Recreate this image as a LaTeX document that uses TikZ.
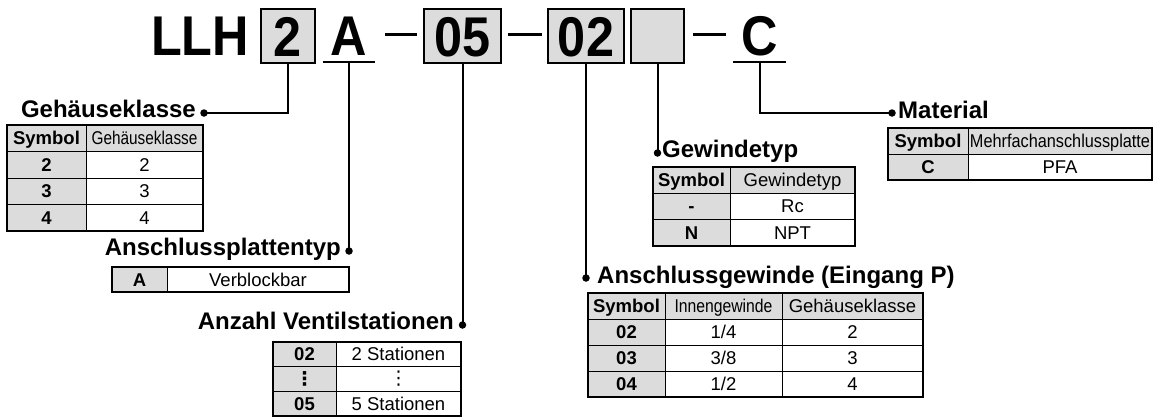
\documentclass[tikz,border=0pt]{standalone}
\usepackage{fontspec}
\setmainfont{Liberation Sans}
\newfontfamily\djv{DejaVu Sans}
\usepackage{graphicx}
\definecolor{gr}{RGB}{220,220,220}
\newcommand\cond[2]{\scalebox{#1}[1]{#2}}
\newcommand\ttlfont{\fontsize{56}{60}\selectfont\bfseries}
\tikzset{
  tb/.style={draw, line width=2pt, fill=gr, inner sep=0pt, text height=40pt, text depth=0pt, font=\ttlfont},
  ul/.style={inner sep=0pt, text height=40pt, text depth=7pt, font=\ttlfont},
  sect/.style={inner sep=0pt, font=\fontsize{24}{28}\selectfont\bfseries},
  cell/.style={inner sep=0pt, text height=13.3pt, text depth=0pt, font=\fontsize{18.5}{20}\selectfont},
  bcell/.style={inner sep=0pt, text height=13.3pt, text depth=0pt, font=\fontsize{18.5}{20}\selectfont\bfseries},
  dcell/.style={inner sep=0pt, font=\fontsize{19}{20}\selectfont\djv},
  conn/.style={line width=2pt},
  dot/.style={circle, fill=black, inner sep=0pt, minimum size=7.5pt},
  outer/.style={line width=1.8pt},
  inner/.style={line width=1pt},
  sep/.style={line width=3pt}
}
\begin{document}
\begin{tikzpicture}[x=1pt,y=-1pt]
\useasboundingbox (0,0) rectangle (1156,418);
% ---------- title line ----------
\node[anchor=base west, inner sep=0pt, font=\ttlfont] (llh) at (151,55) {\cond{0.9}{LLH}};
\node[tb, minimum width=54pt, minimum height=54pt] (b2) at (288,36) {\cond{0.9}{2}};
\node[ul, minimum width=52pt] (bA) at (349,38.5) {\cond{0.9}{A}};
\draw[line width=2pt] (bA.south west) -- (bA.south east);
\draw[sep] (385,34) -- (417,34);
\node[tb, minimum width=77pt, minimum height=54pt] (b05) at (462.5,36) {\cond{0.9}{05}};
\draw[sep] (508,34) -- (542,34);
\node[tb, minimum width=76pt, minimum height=54pt] (b02) at (586,36) {\cond{0.9}{02}};
\node[tb, minimum width=53pt, minimum height=54pt] (bX) at (657.5,36) {};
\draw[sep] (693,34) -- (726,34);
\node[ul, minimum width=53pt] (bC) at (759.5,38.5) {\cond{0.9}{C}};
\draw[line width=2pt] (bC.south west) -- (bC.south east);
% ---------- section dots and connectors ----------
\node[dot] (d1) at (204,113) {};
\node[dot] (d2) at (349,251) {};
\node[dot] (d3) at (462.5,325) {};
\node[dot] (d4) at (586,278) {};
\node[dot] (d5) at (657.5,153) {};
\node[dot] (d6) at (892,113) {};
\draw[conn] (b2.south) |- (d1.center);
\draw[conn] (bA.south) -- (d2.center);
\draw[conn] (b05.south) -- (d3.center);
\draw[conn] (b02.south) -- (d4.center);
\draw[conn] (bX.south) -- (d5.center);
\draw[conn] (bC.south) |- (d6.center);
% ---------- section titles ----------
\node[sect, anchor=base east] (s1) at (196,117) {Gehäuseklasse};
\node[sect, anchor=base east] (s2) at (341,255) {Anschlussplattentyp};
\node[sect, anchor=base east] (s3) at (454,329) {Anzahl Ventilstationen};
\node[sect, anchor=base west] (s4) at (597,283) {Anschlussgewinde (Eingang P)};
\node[sect, anchor=base west] (s5) at (662,157) {Gewindetyp};
\node[sect, anchor=base west] (s6) at (898,118) {Material};
% ---------- table 1: Gehaeuseklasse ----------
\fill[gr] (7,125) rectangle (203,151.5);
\fill[gr] (7,151.5) rectangle (86,231);
\draw[inner] (7,151.5) -- (203,151.5) (7,178) -- (203,178) (7,204.5) -- (203,204.5) (86,125) -- (86,231);
\draw[outer] (7,125) rectangle (203,231);
\node[bcell] (t1a) at (46.5,138.25) {Symbol};
\node[cell] (t1b) at (144.5,138.25) {\cond{0.83}{Gehäuseklasse}};
\node[bcell] (t1c) at (46.5,164.75) {2};
\node[cell] (t1d) at (144.5,164.75) {2};
\node[bcell] (t1e) at (46.5,191.25) {3};
\node[cell] (t1f) at (144.5,191.25) {3};
\node[bcell] (t1g) at (46.5,217.75) {4};
\node[cell] (t1h) at (144.5,217.75) {4};
% ---------- table 2: Anschlussplattentyp ----------
\fill[gr] (112,267) rectangle (167,292);
\draw[inner] (167,267) -- (167,292);
\draw[outer] (112,267) rectangle (349,292);
\node[bcell] (t2a) at (139.5,279.5) {A};
\node[cell] (t2b) at (258,279.5) {Verblockbar};
% ---------- table 3: Anzahl Ventilstationen ----------
\fill[gr] (273,342) rectangle (336,416);
\draw[inner] (273,366.7) -- (461,366.7) (273,391.3) -- (461,391.3) (336,342) -- (336,416);
\draw[outer] (273,342) rectangle (461,416);
\node[bcell] (t3a) at (304.5,354.3) {02};
\node[cell] (t3b) at (398.5,354.3) {2 Stationen};
\node[dcell, font=\fontsize{19}{20}\selectfont\djv\bfseries] (t3c) at (304.5,379) {⋮};
\node[dcell] (t3d) at (398.5,379) {⋮};
\node[bcell] (t3e) at (304.5,403.7) {05};
\node[cell] (t3f) at (398.5,403.7) {5 Stationen};
% ---------- table 4: Gewindetyp ----------
\fill[gr] (653,167) rectangle (855,193);
\fill[gr] (653,193) rectangle (730,246);
\draw[inner] (653,193) -- (855,193) (653,219.5) -- (855,219.5) (730,167) -- (730,246);
\draw[outer] (653,167) rectangle (855,246);
\node[bcell] (t4a) at (691.5,180) {Symbol};
\node[cell] (t4b) at (792.5,180) {Gewindetyp};
\node[bcell] (t4c) at (691.5,206.25) {-};
\node[cell] (t4d) at (792.5,206.25) {Rc};
\node[bcell] (t4e) at (691.5,232.75) {N};
\node[cell] (t4f) at (792.5,232.75) {NPT};
% ---------- table 5: Anschlussgewinde ----------
\fill[gr] (588,293) rectangle (923,319);
\fill[gr] (588,319) rectangle (665,397);
\draw[inner] (588,319) -- (923,319) (588,345) -- (923,345) (588,371) -- (923,371) (665,293) -- (665,397) (782,293) -- (782,397);
\draw[outer] (588,293) rectangle (923,397);
\node[bcell] (t5a) at (626.5,306) {Symbol};
\node[cell] (t5b) at (723.5,306) {\cond{0.85}{Innengewinde}};
\node[cell] (t5c) at (852.5,306) {Gehäuseklasse};
\node[bcell] (t5d) at (626.5,332) {02};
\node[cell] (t5e) at (723.5,332) {1/4};
\node[cell] (t5f) at (852.5,332) {2};
\node[bcell] (t5g) at (626.5,358) {03};
\node[cell] (t5h) at (723.5,358) {3/8};
\node[cell] (t5i) at (852.5,358) {3};
\node[bcell] (t5j) at (626.5,384) {04};
\node[cell] (t5k) at (723.5,384) {1/2};
\node[cell] (t5l) at (852.5,384) {4};
% ---------- table 6: Material ----------
\fill[gr] (888,128) rectangle (1152,154);
\fill[gr] (888,154) rectangle (968,180);
\draw[inner] (888,154) -- (1152,154) (968,128) -- (968,180);
\draw[outer] (888,128) rectangle (1152,180);
\node[bcell] (t6a) at (928,141) {Symbol};
\node[cell] (t6b) at (1060,141) {\cond{0.88}{Mehrfachanschlussplatte}};
\node[bcell] (t6c) at (928,167) {C};
\node[cell] (t6d) at (1060,167) {PFA};
\end{tikzpicture}
\end{document}
